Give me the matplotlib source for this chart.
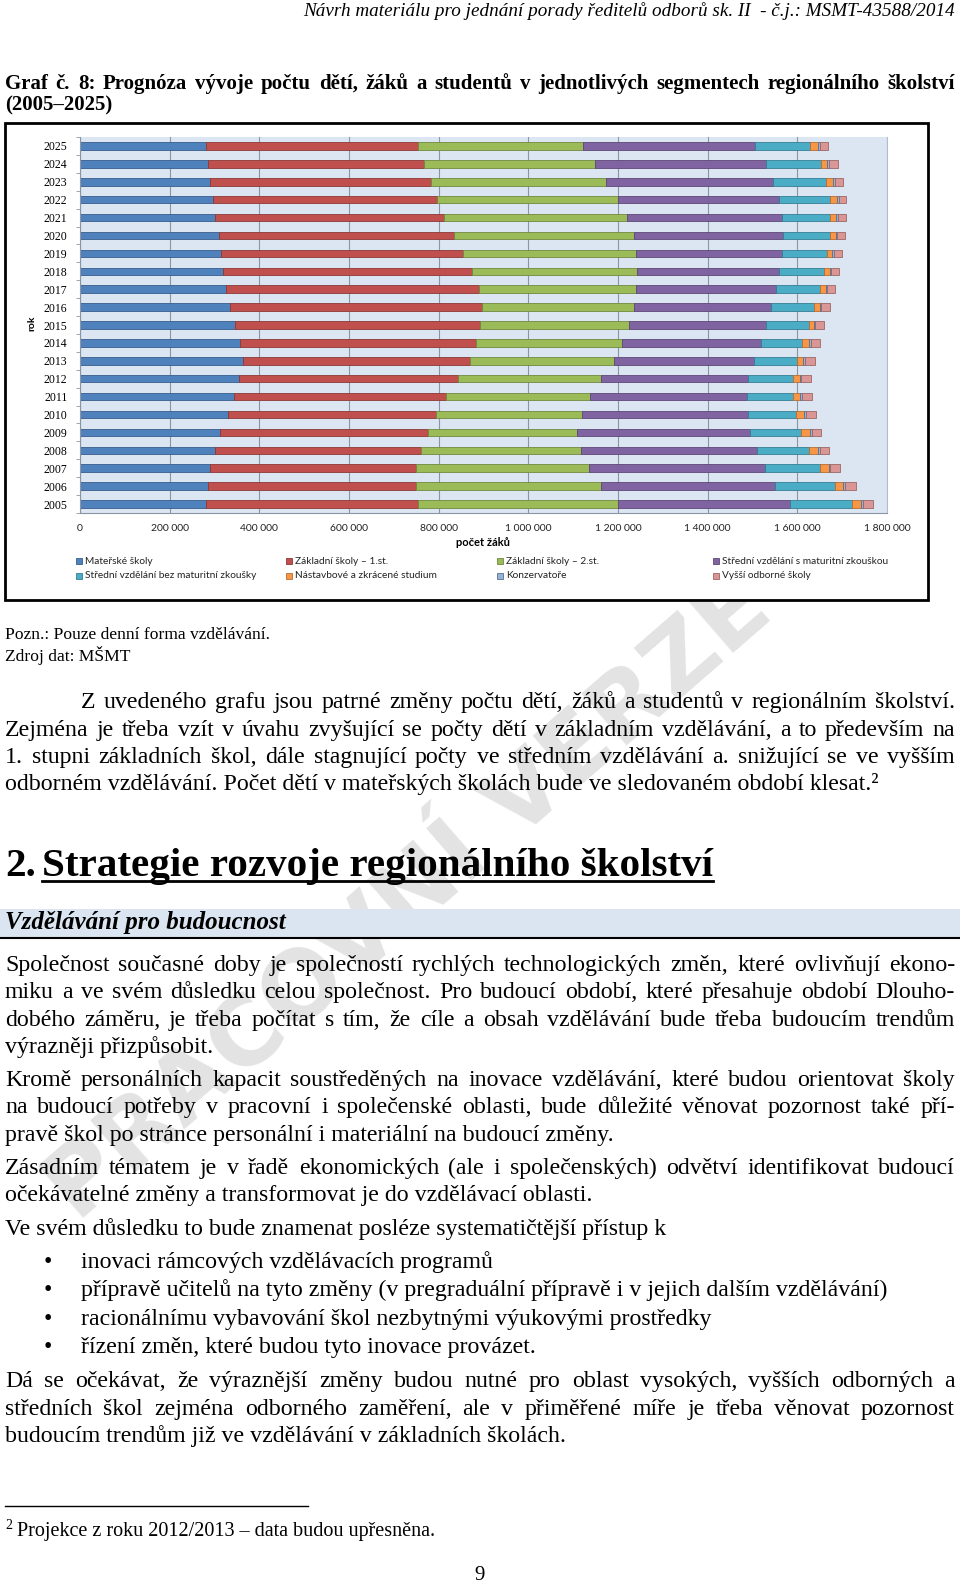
import matplotlib
matplotlib.use('Agg')
import numpy as np
import matplotlib.pyplot as plt
from matplotlib.patches import Rectangle
from matplotlib.lines import Line2D

# data (pocet zaku), roky 2005-2025
roky = list(range(2005, 2026))
materske = [282000, 285000, 291000, 301000, 313000, 329000, 343000, 354000, 363000, 357000, 345000,
            334000, 326000, 320000, 314000, 309000, 302000, 297000, 291000, 286000, 280000]
zakladni_1 = [473000, 464000, 458000, 459000, 463000, 466000, 474000, 489000, 508000, 527000, 548000,
              562000, 564000, 555000, 541000, 525000, 510000, 500000, 491000, 481000, 473000]
zakladni_2 = [445000, 413000, 387000, 358000, 333000, 324000, 320000, 319000, 320000, 326000, 332000,
              339000, 351000, 368000, 386000, 401000, 408000, 403000, 392000, 381000, 368000]
stredni_mat = [383000, 389000, 391000, 391000, 386000, 370000, 351000, 328000, 313000, 308000, 306000,
               307000, 312000, 317000, 324000, 332000, 345000, 358000, 371000, 381000, 384000]
stredni_bez = [138000, 132000, 123000, 117000, 113000, 107000, 102000, 100000, 96000, 93000, 94000,
               95000, 97000, 100000, 102000, 105000, 108000, 114000, 120000, 123000, 123000]
nastavbove = [22000, 19000, 20000, 20000, 20000, 19000, 17000, 15000, 13000, 15000, 12000,
              13000, 13000, 12000, 11000, 14000, 14000, 17000, 15000, 15000, 18000]
konzervatore = [3600, 3600, 3600, 3600, 3600, 3600, 3600, 3500, 3500, 3500, 3500,
                3500, 3500, 3500, 3500, 3500, 3500, 3500, 3500, 3500, 3500]
vyssi_odb = [22000, 25000, 22000, 20000, 22000, 22000, 22000, 22000, 22000, 20000, 20000,
             20000, 18000, 18000, 18000, 17000, 17000, 16000, 19000, 20000, 19000]

nazvy = ['Mateřské školy', 'Základní školy – 1.st.', 'Základní školy – 2.st.',
         'Střední vzdělání s maturitní zkouškou', 'Střední vzdělání bez maturitní zkoušky',
         'Nástavbové a zkrácené studium', 'Konzervatoře', 'Vyšší odborné školy']
serie = [materske, zakladni_1, zakladni_2, stredni_mat, stredni_bez, nastavbove, konzervatore, vyssi_odb]
barvy = ['#4f81bd', '#c0504d', '#9bbb59', '#8064a2', '#4bacc6', '#f79646', '#95b3d7', '#d99694']
okraje = ['#385d8a', '#8c3836', '#71893f', '#5c4776', '#357d91', '#b66d31', '#5a6f8f', '#9c6664']

W, H = 960, 1584
SERIF = 'Liberation Serif'
SANS = 'Lato'

fig = plt.figure(figsize=(9.6, 15.84), dpi=100)
renderer = fig.canvas.get_renderer()


def fx(x):
    return x / W


def fy(y):
    return 1 - y / H


def sirka(s, **kw):
    t = fig.text(0, 0, s, **kw)
    w = t.get_window_extent(renderer).width
    t.remove()
    return w


def radek(s, x0, y, size, x1=None, **kw):
    kw = dict(dict(family=SERIF, color='black'), **kw)
    kw.update(va='baseline', ha='left')
    if x1 is None:
        return fig.text(fx(x0), fy(y), s, fontsize=size, **kw)
    slova = s.split(' ')
    # zmensit pismo, pokud se radek nevejde
    while True:
        sw = [sirka(w, fontsize=size, **kw) for w in slova]
        if sum(sw) + 3.5 * (len(slova) - 1) <= x1 - x0:
            break
        size *= 0.985
    mezera = (x1 - x0 - sum(sw)) / max(len(slova) - 1, 1)
    x = x0
    for w, d in zip(slova, sw):
        fig.text(fx(x), fy(y), w, fontsize=size, **kw)
        x += d + mezera


def velikost(s, cil, zaklad=20, **kw):
    return zaklad * cil / sirka(s, fontsize=zaklad, **kw)


# vodoznak
fig.text(fx(410), fy(900), 'PRACOVNÍ VERZE', rotation=41, fontsize=68, color='#e3e3e3',
         family='DejaVu Sans', weight='bold', ha='center', va='center', zorder=0.5)

# zahlavi
hl = 'Návrh materiálu pro jednání porady ředitelů odborů sk. II  - č.j.: MSMT-43588/2014'
s = velikost(hl, 652, family=SERIF, style='italic')
fig.text(fx(955), fy(16), hl, fontsize=s, family=SERIF, style='italic', ha='right', va='baseline')

# titulek grafu
radek('Graf č. 8: Prognóza vývoje počtu dětí, žáků a studentů v jednotlivých segmentech regionálního školství',
      5, 89, 15, x1=955, weight='bold')
radek('(2005–2025)', 5, 110, 15, weight='bold')

# ramecek grafu
fig.add_artist(Rectangle((fx(5), fy(600)), fx(928) - fx(5), (600 - 123) / H, transform=fig.transFigure,
                         facecolor='white', edgecolor='black', lw=2, zorder=1))

ax = fig.add_axes([fx(80), fy(513), (887 - 80) / W, (513 - 137) / H])
ax.set_zorder(2)
ax.set_facecolor('#dce6f2')
ypos = np.arange(len(roky))
zleva = np.zeros(len(roky))
for vals, c, e, n in zip(serie, barvy, okraje, nazvy):
    ax.barh(ypos, vals, left=zleva, height=0.42, color=c, edgecolor=e, linewidth=0.6, label=n)
    zleva += np.array(vals)

ax.set_xlim(0, 1800000)
ax.set_ylim(-0.5, len(roky) - 0.5)
xt = list(range(0, 1800001, 200000))
ax.set_xticks(xt, labels=[f'{v:,}'.replace(',', ' ') for v in xt], fontsize=7.5, family=SANS)
ax.set_yticks(ypos, labels=[str(r) for r in roky], fontsize=8.5, family=SERIF)
ax.set_yticks(np.arange(-0.5, len(roky)), minor=True)
ax.tick_params(axis='x', length=0, pad=8, colors='#222222')
ax.tick_params(axis='y', which='major', length=0, pad=9)
ax.tick_params(axis='y', which='minor', length=3, color='#8a96a8')
ax.grid(axis='x', color='#8a96a8', lw=0.8)
ax.set_axisbelow(True)
ax.spines['top'].set_visible(False)
for k in ['left', 'bottom']:
    ax.spines[k].set_color('#8a96a8')
    ax.spines[k].set_linewidth(0.8)
ax.spines['right'].set_color('#b4bccb')
ax.spines['right'].set_linewidth(0.8)

fig.text(fx(32), fy(323), 'rok', rotation=90, fontsize=7.5, weight='bold', family=SANS,
         ha='center', va='center')
fig.text(fx(483), fy(543), 'počet žáků', fontsize=8, weight='bold', family=SANS, ha='center', va='center')

# legenda (2 radky po 4)
sloupce = [76, 286, 497, 713]
radky_leg = [561, 576]
for i, (n, c, e) in enumerate(zip(nazvy, barvy, okraje)):
    x = sloupce[i % 4]
    y = radky_leg[i // 4]
    fig.add_artist(Rectangle((fx(x), fy(y + 3)), 6 / W, 6 / H, transform=fig.transFigure,
                             facecolor=c, edgecolor=e, lw=0.6, zorder=3))
    fig.text(fx(x + 9), fy(y), n, fontsize=7.3, family=SANS, color='#222222', ha='left', va='center')

# poznamky
radek('Pozn.: Pouze denní forma vzdělávání.', 5, 639, 12.6)
radek('Zdroj dat: MŠMT', 5, 661, 12.6)

BODY = 17.2
P = 955
radek('Z uvedeného grafu jsou patrné změny počtu dětí, žáků a studentů v regionálním školství.', 81, 708, BODY, x1=P)
radek('Zejména je třeba vzít v úvahu zvyšující se počty dětí v základním vzdělávání, a to především na', 5, 736, BODY, x1=P)
radek('1. stupni základních škol, dále stagnující počty ve středním vzdělávání a. snižující se ve vyšším', 5, 763, BODY, x1=P)
radek('odborném vzdělávání. Počet dětí v mateřských školách bude ve sledovaném období klesat.²', 5, 790, BODY)

# nadpis kapitoly
nad = 'Strategie rozvoje regionálního školství'
sn = velikost(nad, 670, weight='bold', family=SERIF)
radek('2.', 5, 876, sn, weight='bold')
t = fig.text(fx(42), fy(876), nad, fontsize=sn, weight='bold', family=SERIF, va='baseline', ha='left')
bb = t.get_window_extent(renderer)
fig.add_artist(Line2D([fx(42), fx(42 + bb.width)], [fy(881), fy(881)], transform=fig.transFigure,
                      color='black', lw=2))

# podnadpis v pruhu
fig.add_artist(Rectangle((0, fy(938)), 1, (938 - 909) / H, transform=fig.transFigure,
                         facecolor='#dbe5f1', edgecolor='none', zorder=0.8))
fig.add_artist(Line2D([0, 1], [fy(938), fy(938)], transform=fig.transFigure, color='black', lw=1.5))
pod = 'Vzdělávání pro budoucnost'
sp = velikost(pod, 281, weight='bold', style='italic', family=SERIF)
radek(pod, 5, 929, sp, weight='bold', style='italic')

radek('Společnost současné doby je společností rychlých technologických změn, které ovlivňují ekono-', 5, 971, BODY, x1=P)
radek('miku a ve svém důsledku celou společnost. Pro budoucí období, které přesahuje období Dlouho-', 5, 998, BODY, x1=P)
radek('dobého záměru, je třeba počítat s tím, že cíle a obsah vzdělávání bude třeba budoucím trendům', 5, 1026, BODY, x1=P)
radek('výrazněji přizpůsobit.', 5, 1053, BODY)

radek('Kromě personálních kapacit soustředěných na inovace vzdělávání, které budou orientovat školy', 5, 1086, BODY, x1=P)
radek('na budoucí potřeby v pracovní i společenské oblasti, bude důležité věnovat pozornost také pří-', 5, 1113, BODY, x1=P)
radek('pravě škol po stránce personální i materiální na budoucí změny.', 5, 1141, BODY)

radek('Zásadním tématem je v řadě ekonomických (ale i společenských) odvětví identifikovat budoucí', 5, 1174, BODY, x1=P)
radek('očekávatelné změny a transformovat je do vzdělávací oblasti.', 5, 1201, BODY)

radek('Ve svém důsledku to bude znamenat posléze systematičtější přístup k', 5, 1235, BODY)

odrazky = ['inovaci rámcových vzdělávacích programů',
           'přípravě učitelů na tyto změny (v pregraduální přípravě i v jejich dalším vzdělávání)',
           'racionálnímu vybavování škol nezbytnými výukovými prostředky',
           'řízení změn, které budou tyto inovace provázet.']
for i, o in enumerate(odrazky):
    y = 1268 + i * 28.3
    radek('•', 44, y, BODY)
    radek(o, 81, y, BODY)

radek('Dá se očekávat, že výraznější změny budou nutné pro oblast vysokých, vyšších odborných a', 5, 1387, BODY, x1=P)
radek('středních škol zejména odborného zaměření, ale v přiměřené míře je třeba věnovat pozornost', 5, 1415, BODY, x1=P)
radek('budoucím trendům již ve vzdělávání v základních školách.', 5, 1442, BODY)

# poznamka pod carou
fig.add_artist(Line2D([fx(5), fx(308)], [fy(1506), fy(1506)], transform=fig.transFigure, color='black', lw=1))
radek('2', 5, 1529, 10)
radek('Projekce z roku 2012/2013 – data budou upřesněna.', 17, 1536, 14.5)

fig.text(fx(480), fy(1580), '9', fontsize=15, family=SERIF, ha='center', va='baseline')

fig.savefig('out.png', dpi=100)
